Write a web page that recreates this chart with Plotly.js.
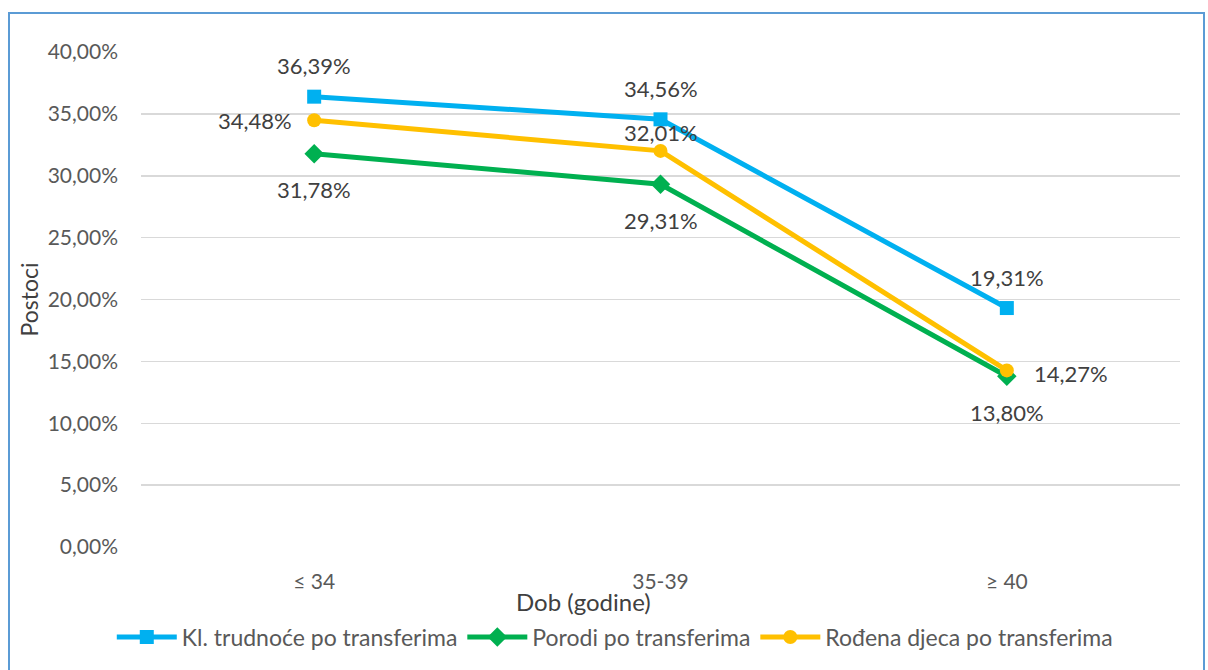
<!DOCTYPE html>
<html><head><meta charset="utf-8">
<script src="https://cdn.plot.ly/plotly-3.0.1.min.js"></script>
<style>
html,body{margin:0;padding:0;background:#fff;}
#wrap{position:relative;width:1208px;height:670px;overflow:hidden;}
#chart{position:absolute;left:0;top:0;width:1208px;height:670px;}
#frame{position:absolute;left:8px;top:12px;width:1197px;height:700px;border:2px solid #5B9BD5;box-sizing:border-box;pointer-events:none;}
</style></head>
<body>
<div id="wrap"><div id="chart"></div><div id="frame"></div></div>
<script>
const categories = ['≤ 34', '35-39', '≥ 40'];
const seriesNames = ['Kl. trudnoće po transferima', 'Porodi po transferima', 'Rođena djeca po transferima'];
const trudnoce = [36.39, 34.56, 19.31];
const porodi = [31.78, 29.31, 13.80];
const rodjena = [34.48, 32.01, 14.27];
const yTicks = [0, 5, 10, 15, 20, 25, 30, 35, 40];

const colors = ['#00B0F0', '#00B050', '#FFC000'];
const symbols = ['square', 'diamond', 'circle'];
const allSeries = [trudnoce, porodi, rodjena];
// label placement per series/point: [xshift, yshift]
const labelShift = [
  [[0, 31], [0, 31], [0, 31]],
  [[0, -36], [0, -36], [0, -36]],
  [[-59, 0], [0, 18], [64, -3]]
];
const fmt = v => v.toFixed(2).replace('.', ',') + '%';

const traces = allSeries.map((vals, i) => ({
  x: categories, y: vals, name: seriesNames[i], type: 'scatter', mode: 'lines+markers',
  line: {color: colors[i], width: 5},
  marker: {symbol: symbols[i], size: i === 1 ? 15 : 14, color: colors[i]},
  hoverinfo: 'skip'
}));

const annotations = [];
allSeries.forEach((vals, i) => vals.forEach((v, j) => {
  annotations.push({x: categories[j], y: v, xref: 'x', yref: 'y', text: fmt(v), showarrow: false,
    xshift: labelShift[i][j][0], yshift: labelShift[i][j][1],
    font: {family: 'Lato', size: 22, color: '#404040'}});
}));
annotations.push({x: (583 - 141) / 1039, y: -0.11, xref: 'paper', yref: 'paper', text: 'Dob (godine)',
  showarrow: false, xanchor: 'center', yanchor: 'middle', font: {family: 'Lato', size: 24, color: '#404040'}});

const layout = {
  width: 1208, height: 670,
  margin: {l: 141, r: 28, t: 52, b: 123},
  paper_bgcolor: '#fff', plot_bgcolor: '#fff',
  font: {family: 'Lato', color: '#595959', size: 21},
  showlegend: true,
  legend: {orientation: 'h', x: 0.456, xanchor: 'center', y: -0.182, yanchor: 'middle',
    font: {family: 'Lato', size: 23, color: '#595959'}, itemwidth: 60, tracegroupgap: 0},
  xaxis: {type: 'category', range: [-0.5, 2.5], showgrid: false, zeroline: false, showline: false,
    ticks: '', ticklabelstandoff: 20, tickfont: {family: 'Lato', size: 21, color: '#595959'}, fixedrange: true},
  yaxis: {range: [0, 40], tickvals: yTicks, ticktext: yTicks.map(v => v.toFixed(2).replace('.', ',') + '%'),
    showgrid: true, gridcolor: '#D9D9D9', gridwidth: 1.5, zeroline: false, showline: false, ticks: '',
    ticklabelstandoff: 22, tickfont: {family: 'Lato', size: 21, color: '#595959'},
    title: {text: 'Postoci', standoff: 2, font: {family: 'Lato', size: 23, color: '#404040'}}, fixedrange: true},
  annotations: annotations
};
Plotly.newPlot('chart', traces, layout, {displayModeBar: false, staticPlot: true});
</script>
</body></html>
